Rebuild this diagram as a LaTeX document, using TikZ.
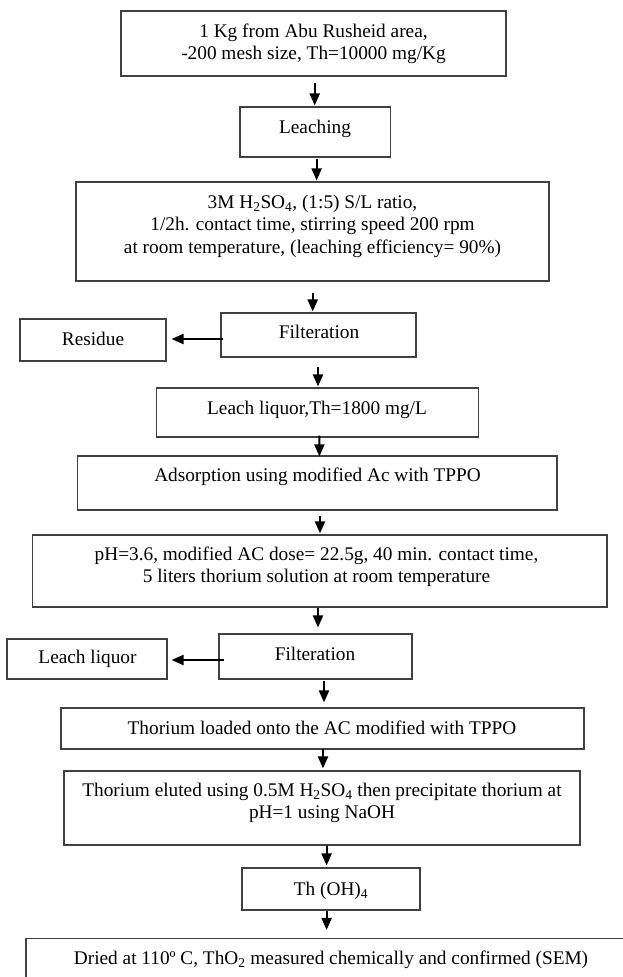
\documentclass[tikz,border=0pt]{standalone}
\usepackage{fontspec}
\setmainfont{Liberation Serif}
\usetikzlibrary{arrows.meta}
\tikzset{
  boxnode/.style={draw=black!75, line width=1.1pt, rectangle, inner sep=0pt},
  txt/.style={inner sep=0pt, align=center, font=\fontsize{19.3}{22.5}\selectfont},
  arr/.style={line width=2.1pt, -{Triangle[width=10pt,length=12pt]}}
}
\begin{document}
\begin{tikzpicture}[x=1pt,y=-1pt]
\useasboundingbox (0,0) rectangle (623,977);
% boxes
\node[boxnode, minimum width=385pt, minimum height=65pt] (b1) at (313.5,43.5) {};
\node[boxnode, minimum width=150.5pt, minimum height=50pt] (b2) at (315.25,132) {};
\node[boxnode, minimum width=473pt, minimum height=99pt] (b3) at (312.5,231.5) {};
\node[boxnode, minimum width=195pt, minimum height=44pt] (b4) at (318.5,335) {};
\node[boxnode, minimum width=146pt, minimum height=42pt] (res) at (93,340) {};
\node[boxnode, minimum width=322.2pt, minimum height=49pt] (b5) at (317.6,412.5) {};
\node[boxnode, minimum width=479.5pt, minimum height=54pt] (b6) at (317.25,483) {};
\node[boxnode, minimum width=574.4pt, minimum height=72pt] (b7) at (319.8,571) {};
\node[boxnode, minimum width=193pt, minimum height=45pt] (b8) at (315.5,656.5) {};
\node[boxnode, minimum width=160pt, minimum height=40pt] (ll) at (87,659) {};
\node[boxnode, minimum width=523pt, minimum height=41pt] (b9) at (322.5,728.5) {};
\node[boxnode, minimum width=516pt, minimum height=74pt] (b10) at (322,808) {};
\node[boxnode, minimum width=178pt, minimum height=42pt] (b11) at (331,889) {};
\node[boxnode, minimum width=614pt, minimum height=51.5pt] (b12) at (333,964.25) {};
% texts
\node[txt, anchor=north] (t1) at (313.5,23.7) {1 Kg from Abu Rusheid area,\\-200 mesh size, Th=10000 mg/Kg};
\node[txt, anchor=base] (t2) at (315,133) {Leaching};
\node[txt, anchor=north] (t3) at (312.5,194.7) {3M H\textsubscript{2}SO\textsubscript{4}, (1:5) S/L ratio,\\1/2h. contact time, stirring speed 200 rpm\\at room temperature, (leaching efficiency= 90\%)};
\node[txt, anchor=base] (t4) at (319,338) {Filteration};
\node[txt, anchor=base] (tres) at (93,345) {Residue};
\node[txt, anchor=base] (t5) at (317,414) {Leach liquor,Th=1800 mg/L};
\node[txt, anchor=base] (t6) at (317.5,481) {Adsorption using modified Ac with TPPO};
\node[txt, anchor=north] (t7) at (316.5,546.7) {pH=3.6, modified AC dose= 22.5g, 40 min. contact time,\\5 liters thorium solution at room temperature};
\node[txt, anchor=base] (t8) at (315,660) {Filteration};
\node[txt, anchor=base] (tll) at (87.5,663) {Leach liquor};
\node[txt, anchor=base] (t9) at (322,734) {Thorium loaded onto the AC modified with TPPO};
\node[txt, anchor=north] (t10) at (322,782.7) {Thorium eluted using 0.5M H\textsubscript{2}SO\textsubscript{4} then precipitate thorium at\\pH=1 using NaOH};
\node[txt, anchor=base] (t11) at (331,895) {Th (OH)\textsubscript{4}};
\node[txt, anchor=base] (t12) at (331,964) {Dried at 110º C, ThO\textsubscript{2} measured chemically and confirmed (SEM)};
% arrows
\draw[arr] ([shift={(1.2,6)}]b1.south) -- ([shift={(-0.55,-1)}]b2.north);
\draw[arr] ([shift={(1.35,1)}]b2.south) -- ([shift={(4.1,-1)}]b3.north);
\draw[arr] ([shift={(0.2,11)}]b3.south) -- ([shift={(-5.8,-1)}]b4.north);
\draw[arr] ([shift={(-0.5,9)}]b4.south) -- ([shift={(0.4,-1)}]b5.north);
\draw[arr] ([shift={(1.8,-2)}]b5.south) -- ([shift={(2.15,1)}]b6.north);
\draw[arr] ([shift={(2.75,5)}]b6.south) -- ([shift={(0.2,-1)}]b7.north);
\draw[arr] ([shift={(-1.8,0)}]b7.south) -- ([shift={(2.5,-6)}]b8.north);
\draw[arr] ([shift={(8.5,1)}]b8.south) -- ([shift={(1.5,-5)}]b9.north);
\draw[arr] ([shift={(0.5,-1)}]b9.south) -- ([shift={(1,-2)}]b10.north);
\draw[arr] ([shift={(4.6,0)}]b10.south) -- ([shift={(-4.4,-2)}]b11.north);
\draw[arr] ([shift={(-4.4,0)}]b11.south) -- ([shift={(-6.4,-8)}]b12.north);
\draw[arr] ([shift={(3,4)}]b4.west) -- ([shift={(5,-1)}]res.east);
\draw[arr] ([shift={(5.5,3.5)}]b8.west) -- ([shift={(4,1)}]ll.east);
\end{tikzpicture}
\end{document}
